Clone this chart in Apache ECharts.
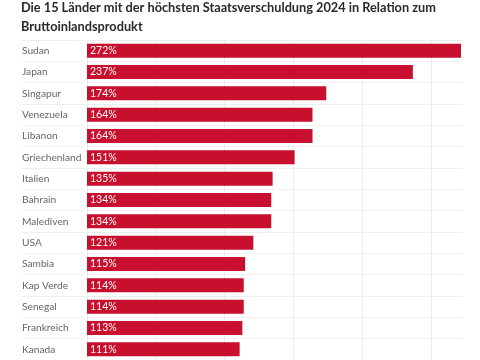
<!DOCTYPE html>
<html>
<head>
<meta charset="utf-8">
<script src="https://cdn.jsdelivr.net/npm/echarts@6/dist/echarts.min.js"></script>
<style>
html,body{margin:0;padding:0;background:#fff;}
#chart{width:480px;height:360px;}
</style>
</head>
<body>
<div id="chart"></div>
<script>
var titleText = 'Die 15 Länder mit der höchsten Staatsverschuldung 2024 in Relation zum\nBruttoinlandsprodukt';
var categories = ['Sudan','Japan','Singapur','Venezuela','Libanon','Griechenland','Italien','Bahrain','Malediven','USA','Sambia','Kap Verde','Senegal','Frankreich','Kanada'];
var values = [272,237,174,164,164,151,135,134,134,121,115,114,114,113,111];

var chart = echarts.init(document.getElementById('chart'));
var font = 'Lato';
chart.setOption({
  animation: false,
  backgroundColor: '#fff',
  title: {
    text: titleText,
    left: 21,
    top: -2,
    padding: 0,
    textStyle: {fontFamily: font, fontSize: 12.75, fontWeight: 'bold', color: '#2a2a2a', lineHeight: 19}
  },
  grid: [
    {left: 22, right: 17, top: 40, bottom: 0},
    {left: 87, right: 19, top: 40, bottom: 0}
  ],
  xAxis: [
    {gridIndex: 0, type: 'value', show: false},
    {gridIndex: 1, type: 'value', min: 0, max: 272, interval: 50,
     axisLabel: {show: false}, axisLine: {show: false}, axisTick: {show: false},
     splitLine: {show: true, showMaxLine: false, lineStyle: {color: '#ebebeb', width: 1}}}
  ],
  yAxis: [
    {gridIndex: 0, type: 'category', data: categories, inverse: true,
     axisLabel: {show: false}, axisLine: {show: false}, axisTick: {show: false},
     splitLine: {show: true, lineStyle: {color: '#efefef', width: 1}}},
    {gridIndex: 1, type: 'category', data: categories, inverse: true,
     axisLine: {show: false}, axisTick: {show: false},
     axisLabel: {align: 'left', margin: 65, color: '#666', fontFamily: font, fontSize: 10.2}}
  ],
  series: [{
    type: 'bar',
    xAxisIndex: 1,
    yAxisIndex: 1,
    data: values,
    barWidth: 14,
    itemStyle: {color: '#c8102e'},
    label: {show: true, position: 'insideLeft', distance: 3, color: '#fff', fontFamily: font, fontSize: 10.5,
      formatter: function(p){ return p.value + '%'; }}
  }]
});
</script>
</body>
</html>
